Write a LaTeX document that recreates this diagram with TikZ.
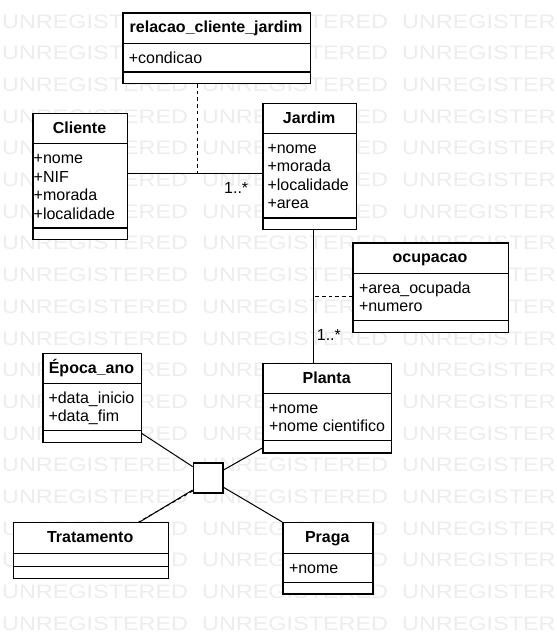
\documentclass[tikz,border=0pt]{standalone}
\usepackage{fontspec}
\setmainfont{Liberation Sans}
\newfontfamily\wmfont[FakeStretch=1.2]{Liberation Sans}
\usetikzlibrary{calc}
\definecolor{wmgray}{HTML}{EDEDED}
\newcommand\UmlBox[7]{%
  \node[clsbox, minimum width={#4-#2}, minimum height={#5-#3}] (#1) at (#2,#3) {};
  \draw[divline] (#2,#6) -- (#4,#6);
  \draw[divline] (#2,#7) -- (#4,#7);
}
\begin{document}
\begin{tikzpicture}[x=1pt,y=-1pt,
  clsbox/.style={draw, line width=1.3pt, fill=white, inner sep=0pt, anchor=north west},
  divline/.style={line width=1.1pt},
  ttl/.style={font=\fontsize{16}{19}\selectfont\bfseries, anchor=base, inner sep=0pt},
  attr/.style={font=\fontsize{16}{19}\selectfont, anchor=base west, inner sep=0pt},
  wmk/.style={font=\wmfont\fontsize{19.5}{20}\selectfont, text=wmgray, anchor=base west, inner sep=0pt},
  conn/.style={line width=1pt},
  dsh/.style={line width=1pt, dash pattern=on 3.5pt off 3.2pt}]
\useasboundingbox[fill=white] (0,0) rectangle (557,643);
% watermark
\foreach \k in {0,...,19}{
  \foreach \i in {0,1,2}{
    \node[wmk] (wm-\k-\i) at ({2+200*\i},{28+31.7*\k}) {UNREGISTERED};
  }
}
% classes
\UmlBox{rel}{122.3}{12.3}{309.7}{82.7}{43.7}{72}
\node[ttl] (rel-t) at (216,32.9) {relacao\_cliente\_jardim};
\node[attr] (rel-a1) at (128.6,63.4) {+condicao};

\UmlBox{cli}{32.3}{112.7}{126.7}{239}{143.7}{228}
\node[ttl] (cli-t) at (79.5,133.3) {Cliente};
\node[attr] (cli-a1) at (33.5,163.4) {+nome};
\node[attr] (cli-a2) at (33.5,182) {+NIF};
\node[attr] (cli-a3) at (33.5,200.6) {+morada};
\node[attr] (cli-a4) at (33.5,219.2) {+localidade};

\UmlBox{jar}{262.3}{102.7}{356}{229}{133.3}{218}
\node[ttl] (jar-t) at (309.2,123.3) {Jardim};
\node[attr] (jar-a1) at (267.3,153) {+nome};
\node[attr] (jar-a2) at (267.3,171.6) {+morada};
\node[attr] (jar-a3) at (267.3,190.2) {+localidade};
\node[attr] (jar-a4) at (267.3,208.8) {+area};

\UmlBox{ocu}{352.3}{242.3}{507.7}{332}{273.3}{320.7}
\node[ttl] (ocu-t) at (430,262.9) {ocupacao};
\node[attr] (ocu-a1) at (358.8,293.2) {+area\_ocupada};
\node[attr] (ocu-a2) at (358.8,311.8) {+numero};

\UmlBox{pla}{262.3}{362.7}{391}{452.3}{393.3}{440.7}
\node[ttl] (pla-t) at (326.7,383.3) {Planta};
\node[attr] (pla-a1) at (268.8,413.2) {+nome};
\node[attr] (pla-a2) at (268.8,431.8) {+nome cientifico};

\UmlBox{epo}{42.3}{352.7}{140.7}{442}{383.3}{430.7}
\node[ttl] (epo-t) at (91.5,373.3) {Época\_ano};
\node[attr] (epo-a1) at (48.3,403.2) {+data\_inicio};
\node[attr] (epo-a2) at (48.3,421.8) {+data\_fim};

\UmlBox{tra}{12.7}{522}{167.7}{578}{553.3}{566.7}
\node[ttl] (tra-t) at (90.2,542.6) {Tratamento};

\UmlBox{pra}{282.3}{522}{372.3}{593.3}{553.3}{582.3}
\node[ttl] (pra-t) at (327.3,542.6) {Praga};
\node[attr] (pra-a1) at (288.8,573.2) {+nome};

\node[clsbox, minimum width=29.6pt, minimum height=30pt] (sq) at (192.7,462.3) {};

% connectors
\coordinate (cj) at (197.7,173.3);
\draw[conn] (cli.east |- cj) -- (jar.west |- cj);
\draw[dsh] (rel.south -| cj) -- (cj);
\node[attr] (lab1) at (224,193.3) {1..*};

\coordinate (jp) at (313.3,296);
\draw[conn] (jar.south -| jp) -- (pla.north -| jp);
\draw[dsh] (ocu.west |- jp) -- (jp);
\node[attr] (lab2) at (316.7,340) {1..*};

\draw[conn] ([yshift=9.7pt]epo.south east) -- ([yshift=11.3pt]sq.west);
\draw[conn] ([yshift=5.6pt]pla.south west) -- ([yshift=8pt]sq.east);
\draw[conn] ([yshift=-9.4pt]sq.east) -- (pra.north west);
\draw[conn] ([yshift=-12pt]sq.west) -- ([xshift=-29.4pt]tra.north east);
\draw[dsh] ([yshift=-13pt]sq.west) -- ([xshift=-30.4pt]tra.north east);
\end{tikzpicture}
\end{document}
